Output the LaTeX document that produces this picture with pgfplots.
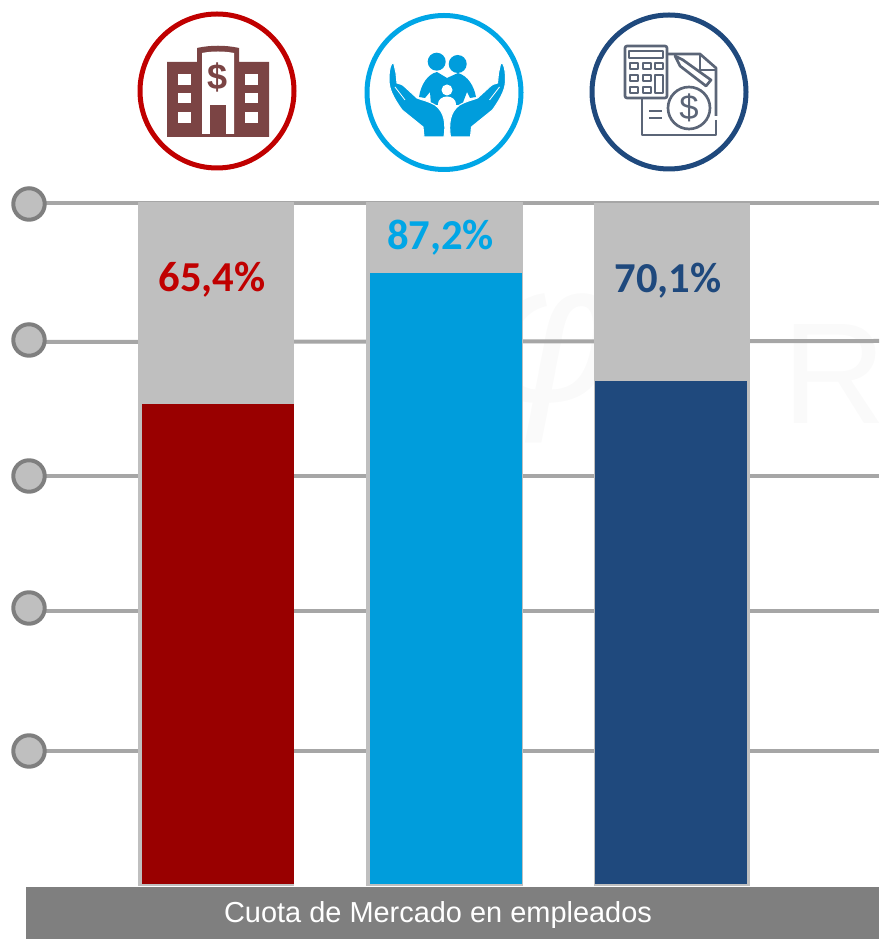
\documentclass[border=0pt]{standalone}
\usepackage{fontspec}
\setmainfont{Liberation Sans}
\newfontfamily\calibri{Carlito}
\usepackage{pgfplots}
\pgfplotsset{compat=1.18}
\definecolor{barred}{HTML}{990000}
\definecolor{barblue}{HTML}{009DDC}
\definecolor{barnavy}{HTML}{1F497D}
\definecolor{txtred}{HTML}{C00000}
\definecolor{txtblue}{HTML}{00A6E6}
\definecolor{backbar}{HTML}{BFBFBF}
\definecolor{gridgrey}{HTML}{A6A6A6}
\definecolor{ringgrey}{HTML}{7F7F7F}
\definecolor{brick}{HTML}{7B4444}
\definecolor{slateicon}{HTML}{5B6577}
\newcommand{\pct}[1]{\fontsize{32pt}{34pt}\selectfont\calibri\bfseries #1}
\begin{document}
\begin{tikzpicture}
% pixel scope: 1 unit is one pixel of the reference, y runs down
\begin{scope}[x=0.75pt,y=-0.75pt,yshift=704.25pt]
\path (0,0) rectangle (879,939);
% faint watermark behind the chart
\node[text=black!2,font=\fontsize{150pt}{150pt}\selectfont\itshape] at (553,368) {φ};
\node[text=black!2,font=\fontsize{108pt}{108pt}\selectfont,anchor=base west] at (778,424) {R};
\end{scope}
\begin{axis}[
  hide axis,
  x=0.75pt,y=0.75pt,
  xmin=0,xmax=879,ymin=-53,ymax=886,
  bar shift=0pt,
]
% value lines (y = height in px above the bar base)
\addplot[gridgrey,line width=3pt] coordinates {(45,683)(879,683)};
\addplot[gridgrey,line width=3pt] coordinates {(45,544)(879,545)};
\addplot[gridgrey,line width=3pt] coordinates {(45,410)(879,410)};
\addplot[gridgrey,line width=3pt] coordinates {(45,275)(879,275)};
\addplot[gridgrey,line width=3pt] coordinates {(45,135)(879,135)};
% end circles
\addplot[only marks,mark=*,mark size=11.8pt,
  mark options={draw=ringgrey,fill=backbar,line width=3pt}]
  coordinates {(29,682)(29,546)(29,410)(29,278)(29,135)};
% grey backing bars
\addplot[ybar,bar width=117pt,fill=backbar,draw=none] coordinates {(216,684)};
\addplot[ybar,bar width=117.75pt,fill=backbar,draw=none] coordinates {(444.5,684)};
\addplot[ybar,bar width=117pt,fill=backbar,draw=none] coordinates {(672,683)};
% coloured bars
\addplot[ybar,bar width=114pt,fill=barred,draw=none] coordinates {(218,482)};
\addplot[ybar,bar width=114pt,fill=barblue,draw=none] coordinates {(446,613)};
\addplot[ybar,bar width=114pt,fill=barnavy,draw=none] coordinates {(671,505)};
% foot of the backing bars
\addplot[ybar,bar width=117pt,fill=backbar,draw=none] coordinates {(216,2)};
\addplot[ybar,bar width=117.75pt,fill=backbar,draw=none] coordinates {(444.5,2)};
\addplot[ybar,bar width=117pt,fill=backbar,draw=none] coordinates {(672,2)};
% caption band
\addplot[fill=ringgrey,draw=none] coordinates {(26,-1)(879,-1)(879,-53)(26,-53)} --cycle;
\node[text=white,font=\fontsize{21.7pt}{23pt}\selectfont] at (axis cs:438,-29) {Cuota de Mercado en empleados};
\node[text=txtred] at (axis cs:212,606) {\pct{65,4\%}};
\node[text=txtblue] at (axis cs:440.5,648) {\pct{87,2\%}};
\node[text=barnavy] at (axis cs:668,605) {\pct{70,1\%}};
\end{axis}
\begin{scope}[x=0.75pt,y=-0.75pt,yshift=704.25pt]
% icon rings
\draw[txtred,line width=3.75pt] (217,91) circle (77);
\draw[txtblue,line width=3.75pt] (444,92.5) circle (77);
\draw[barnavy,line width=3.75pt] (669,92) circle (77);
% bank building
\fill[brick] (167,62) -- (197,62) -- (197,48) .. controls (210,45) and (226,45) .. (239,48) -- (239,62) -- (269,62) -- (269,137) -- (167,137) -- cycle;
\fill[white] (202,53) .. controls (212,51) and (224,51) .. (234,53) -- (234,134) -- (202,134) -- cycle;
\fill[brick] (210,105) rectangle (226,137);
\foreach \y/\h in {74/11,93/10,112/11}{
  \fill[white] (178,\y) rectangle (191,\y+\h);
  \fill[white] (245,\y) rectangle (258,\y+\h);
}
\node[text=brick,font=\fontsize{27pt}{27pt}\selectfont\bfseries] at (218,77) {\$};
% family in hands
\fill[barblue] (436.7,61.7) circle (9);
\fill[barblue] (457.7,64) circle (9);
\fill[barblue] (437,72) .. controls (428,74) and (421,84) .. (419,97) -- (425,98) -- (430,92) -- (431,105) -- (462,105) -- (467,92) -- (470,98) -- (476,97) .. controls (474,86) and (468,76) .. (458,73) -- (447,78) -- cycle;
\fill[white] (447,90) circle (5.5);
\fill[white] (447,104) ellipse (9 and 7.5);
\foreach \s/\o in {1/0,-1/894.5}{
  \begin{scope}[shift={(\o,0)},xscale=\s]
  \filldraw[fill=barblue,draw=white,line width=0.8pt] (392,63) .. controls (389,68) and (389,75) .. (389,80) .. controls (389,88) and (392,96) .. (402,110) -- (423,127) -- (424,137) -- (444,137) .. controls (446,125) and (445,112) .. (435,105) .. controls (428,101) and (422,100) .. (417,98) -- (405,87) .. controls (402,84) and (400,84) .. (397,83) -- (396,73) -- (394,64) -- cycle;
  \draw[white,line width=0.6pt] (395,87) -- (405,100);
  \end{scope}
}
% calculator and invoice
\begin{scope}[slateicon,line width=2pt,line join=round]
\draw[rounded corners=1.5pt] (625,46) rectangle (667,98);
\draw (629,51) rectangle (663,58);
\foreach \x in {630,643}{
  \foreach \y in {63,75,87}{ \draw (\x,\y) rectangle (\x+8,\y+6); }
}
\draw (655,63) rectangle (663,69);
\draw (655,75) rectangle (663,93);
\draw (667,54) -- (700,54) -- (716,68) -- (716,116);
\draw (700,54) -- (700,70) -- (716,70);
\draw (716,120) -- (716,135) -- (642,135) -- (642,98);
\draw (689,108) circle (21);
\node[text=slateicon,font=\fontsize{26pt}{26pt}\selectfont] at (689,108) {\$};
\draw (649,111) -- (662,111);
\draw (649,118) -- (662,118);
\draw (675,56) -- (683,60) -- (711,80) -- (706,86) -- (680,66) -- cycle;
\end{scope}
\end{scope}
\end{tikzpicture}
\end{document}
